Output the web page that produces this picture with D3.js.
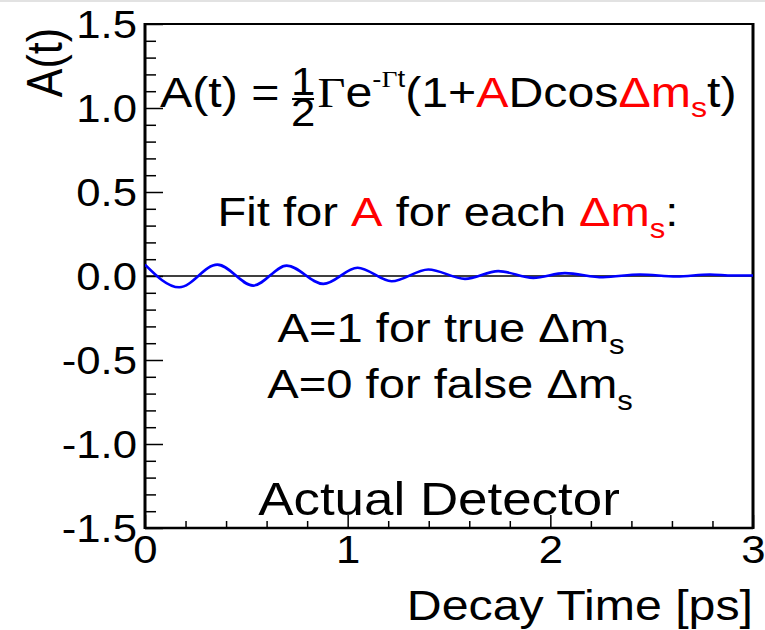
<!DOCTYPE html>
<html>
<head>
<meta charset="utf-8">
<script src="https://cdn.jsdelivr.net/npm/d3@7"></script>
<style>
  html, body { margin: 0; padding: 0; background: #fff; }
  svg { display: block; }
  text { font-family: "Liberation Sans", Arial, sans-serif; white-space: pre; }
</style>
</head>
<body>
<svg id="chart" width="765" height="630"></svg>
<script>
// Asymmetry curve A(t) versus decay time (ps), read at its turning points
const timePs = [0, 0.169, 0.357, 0.534, 0.699, 0.880, 1.049, 1.217, 1.398, 1.579, 1.743, 1.916, 2.072, 2.260, 2.442, 2.623, 2.787, 2.900, 3.0];
const asymmetry = [0.068, -0.067, 0.068, -0.057, 0.062, -0.047, 0.049, -0.031, 0.039, -0.017, 0.029, -0.011, 0.017, -0.007, 0.009, -0.003, 0.009, 0.003, 0.003];

const xMajorTicks = [0, 1, 2, 3];
const yMajorTicks = [-1.5, -1.0, -0.5, 0.0, 0.5, 1.0, 1.5];
const xDomain = [0, 3];
const yDomain = [-1.5, 1.5];

const STRETCH = 1.15;           // horizontal glyph stretch used by every label
const W = 765, H = 630;
const frame = { left: 145, right: 753, top: 24, bottom: 528 };

// plain hyphen for negative tick labels
const fmtY = v => d3.format(".1f")(v).replace("\u2212", "-");

const svg = d3.select("#chart");
svg.append("rect").attr("width", W).attr("height", H).attr("fill", "#fff");
svg.append("line").attr("x1", 0).attr("x2", W).attr("y1", 1).attr("y2", 1)
  .attr("stroke", "#e2e2e2").attr("stroke-width", 2);

const x = d3.scaleLinear().domain(xDomain).range([frame.left, frame.right]);
const y = d3.scaleLinear().domain(yDomain).range([frame.bottom, frame.top]);

// minor ticks
const xMinor = d3.range(0, 3.0001, 0.2).filter(v => Math.abs(v - Math.round(v)) > 1e-6);
const yMinor = d3.range(-15, 16).map(v => v / 10).filter(v => Math.abs(v * 2 - Math.round(v * 2)) > 1e-6);

const xAxisMinor = svg.append("g").attr("transform", `translate(0,${frame.bottom})`)
  .call(d3.axisBottom(x).tickValues(xMinor).tickSize(-7).tickSizeOuter(0).tickFormat(""));
const yAxisMinor = svg.append("g").attr("transform", `translate(${frame.left},0)`)
  .call(d3.axisLeft(y).tickValues(yMinor).tickSize(-11).tickSizeOuter(0).tickFormat(""));
[xAxisMinor, yAxisMinor].forEach(g => {
  g.select(".domain").remove();
  g.selectAll(".tick line").attr("stroke", "#000").attr("stroke-width", 1.5);
});

const xAxis = svg.append("g").attr("transform", `translate(0,${frame.bottom})`)
  .call(d3.axisBottom(x).tickValues(xMajorTicks).tickSize(-13).tickSizeOuter(0)
    .tickPadding(8).tickFormat(d3.format("d")));
const yAxis = svg.append("g").attr("transform", `translate(${frame.left},0)`)
  .call(d3.axisLeft(y).tickValues(yMajorTicks).tickSize(-18).tickSizeOuter(0)
    .tickPadding(8 / STRETCH).tickFormat(fmtY));

[xAxis, yAxis].forEach(g => {
  g.select(".domain").remove();
  g.selectAll(".tick line").attr("stroke", "#000").attr("stroke-width", 1.5);
  g.selectAll(".tick text")
    .attr("font-family", "Liberation Sans, Arial, sans-serif")
    .attr("font-size", 38).attr("fill", "#000");
});
yAxis.selectAll(".tick text").attr("dy", "0.36em").attr("transform", `scale(${STRETCH},1)`);
xAxis.selectAll(".tick text").attr("dy", "0.72em").attr("transform", `scale(${STRETCH},1)`);

// frame
svg.append("line").attr("x1", frame.left).attr("x2", frame.right).attr("y1", frame.top).attr("y2", frame.top)
  .attr("stroke", "#000").attr("stroke-width", 2);
svg.append("line").attr("x1", frame.left).attr("x2", frame.right).attr("y1", frame.bottom).attr("y2", frame.bottom)
  .attr("stroke", "#000").attr("stroke-width", 2.5);
svg.append("line").attr("x1", frame.left).attr("x2", frame.left).attr("y1", frame.top - 1).attr("y2", frame.bottom + 1)
  .attr("stroke", "#000").attr("stroke-width", 3);
svg.append("line").attr("x1", frame.right).attr("x2", frame.right).attr("y1", frame.top - 1).attr("y2", frame.bottom + 1)
  .attr("stroke", "#000").attr("stroke-width", 3);

// zero reference line
svg.append("line").attr("x1", x(0)).attr("x2", x(3)).attr("y1", y(0)).attr("y2", y(0))
  .attr("stroke", "#000").attr("stroke-width", 1.3);

// asymmetry curve
svg.append("clipPath").attr("id", "plotClip").append("rect")
  .attr("x", frame.left).attr("y", frame.top)
  .attr("width", frame.right - frame.left).attr("height", frame.bottom - frame.top);
const line = d3.line().x((d, i) => x(timePs[i])).y(d => y(d)).curve(d3.curveMonotoneX);
svg.append("path").attr("clip-path", "url(#plotClip)")
  .attr("d", line(asymmetry))
  .attr("fill", "none").attr("stroke", "#0000ff").attr("stroke-width", 2.6)
  .attr("stroke-linejoin", "round");

// axis titles
svg.append("g").attr("transform", `translate(${frame.right},620) scale(${STRETCH},1)`)
  .append("text").attr("text-anchor", "end").attr("font-size", 42).text("Decay Time [ps]");
svg.append("g").attr("transform", `translate(62,28) scale(${STRETCH},1) rotate(-90)`)
  .append("text").attr("text-anchor", "end").attr("font-size", 43).text("A(t)");

// rich text helper: pieces of {t, c, s, dy, serif}
function richText(parent, pieces, size) {
  const txt = parent.append("text").attr("font-size", size).attr("text-anchor", "middle");
  pieces.forEach(p => {
    const ts = txt.append("tspan").text(p.t).attr("fill", p.c || "#000");
    if (p.s) ts.attr("font-size", p.s);
    if (p.dy) ts.attr("dy", p.dy);
    if (p.serif) ts.attr("font-family", "Liberation Serif, Times New Roman, serif");
  });
  return txt;
}
const RED = "#ff0000";

// formula  A(t) = 1/2 Γ e^{-Γt} (1 + A D cos Δm_s t)
const fg = svg.append("g").attr("transform", `translate(160,107) scale(${STRETCH},1)`);
const lhs = fg.append("text").attr("font-size", 42).text("A(t) =");
let cursor = lhs.node().getComputedTextLength() + 10;
// one-half as a stacked fraction (single text element, two stacked digits)
const frac = fg.append("text").attr("font-size", 38).attr("text-anchor", "middle");
const num = frac.append("tspan").text("1");
const fw = num.node().getComputedTextLength();
num.attr("x", cursor + fw / 2).attr("y", -12);
frac.append("tspan").attr("x", cursor + fw / 2).attr("y", 19).text("2");
fg.append("line").attr("x1", cursor + 1).attr("x2", cursor + fw - 1).attr("y1", -8).attr("y2", -8)
  .attr("stroke", "#000").attr("stroke-width", 2);
cursor += fw + 2;
const rhs = fg.append("text").attr("font-size", 42).attr("x", cursor);
[
  { t: "Γ", serif: true },
  { t: "e" },
  { t: "-", s: 24, dy: -20 },
  { t: "Γ", s: 24, serif: true },
  { t: "t", s: 24 },
  { t: "(1+", dy: 20 },
  { t: "A", c: RED },
  { t: "Dcos" },
  { t: "Δm", c: RED },
  { t: "s", c: RED, s: 28, dy: 10 },
  { t: "t)", dy: -10 }
].forEach(p => {
  const ts = rhs.append("tspan").text(p.t).attr("fill", p.c || "#000");
  if (p.s) ts.attr("font-size", p.s);
  if (p.dy) ts.attr("dy", p.dy);
  if (p.serif) ts.attr("font-family", "Liberation Serif, Times New Roman, serif");
});

// annotations
richText(svg.append("g").attr("transform", `translate(448,226) scale(${STRETCH},1)`), [
  { t: "Fit for " }, { t: "A", c: RED }, { t: " for each " }, { t: "Δm", c: RED },
  { t: "s", c: RED, s: 27, dy: 12 }, { t: ":", dy: -12 }
], 41);
richText(svg.append("g").attr("transform", `translate(451,342) scale(${STRETCH},1)`), [
  { t: "A=1 for true Δm" }, { t: "s", s: 27, dy: 12 }
], 41);
richText(svg.append("g").attr("transform", `translate(450,398) scale(${STRETCH},1)`), [
  { t: "A=0 for false Δm" }, { t: "s", s: 27, dy: 12 }
], 41);
svg.append("g").attr("transform", `translate(439,515) scale(${STRETCH},1)`)
  .append("text").attr("text-anchor", "middle").attr("font-size", 46).text("Actual Detector");
</script>
</body>
</html>
